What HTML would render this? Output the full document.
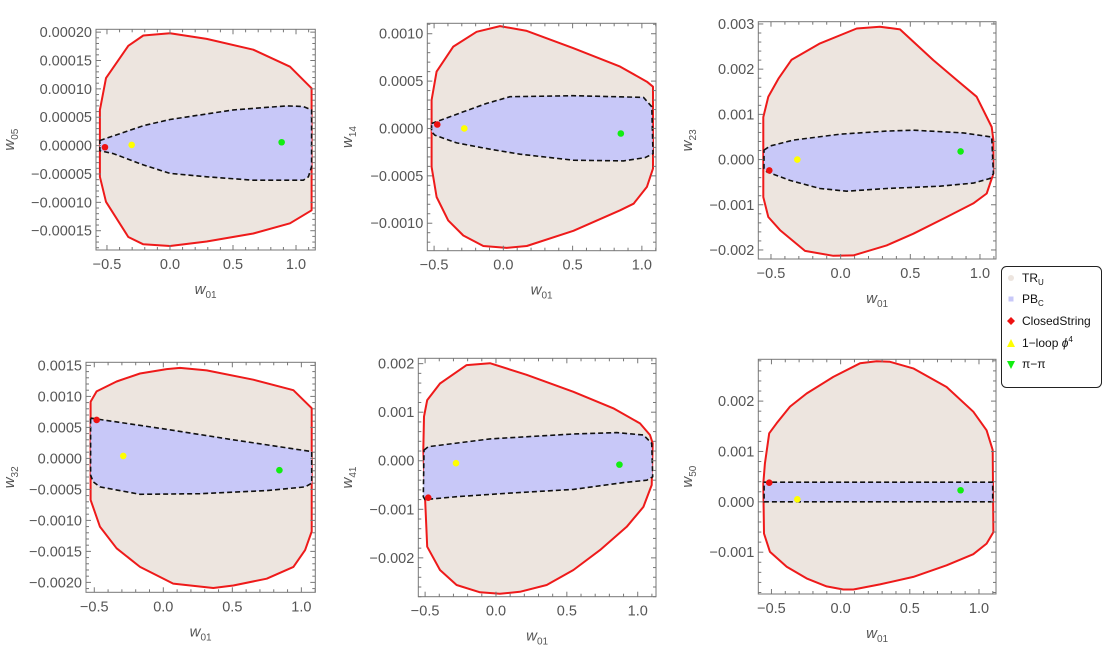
<!DOCTYPE html>
<html><head><meta charset="utf-8">
<style>
body{margin:0;background:#fff;width:1104px;height:658px;overflow:hidden;font-family:"Liberation Sans",sans-serif}
svg{position:absolute;left:0;top:0}
</style></head>
<body>
<svg id="chart" width="1104" height="658" xmlns="http://www.w3.org/2000/svg"></svg>
<script>
// ---- data (data units) ----
const p1OuterX=[-0.556,-0.508,-0.331,-0.212,0.0,0.291,0.661,0.952,1.124,1.124,0.952,0.661,0.291,0.0,-0.212,-0.331,-0.508,-0.556];
const p1OuterY=[0.000063,0.000119,0.000176,0.000194,0.000198,0.000188,0.000169,0.000139,0.000101,-0.000114,-0.000137,-0.000155,-0.000169,-0.000177,-0.000174,-0.000161,-0.000099,-0.000055];
const p1InnerX=[-0.556,-0.212,0.0,0.503,0.926,1.058,1.124,1.124,1.098,1.058,0.661,0.291,0.0,-0.212,-0.450,-0.556];
const p1InnerY=[0.000009,0.000035,0.000046,0.000063,0.000070,0.000069,0.000063,-0.000037,-0.000055,-0.000061,-0.000061,-0.000055,-0.000049,-0.000034,-0.000014,-0.000009];
const p1Pts=[[-0.516,-0.0000029],[-0.304,0.0000012],[0.886,0.0000059]];

const p2OuterX=[-0.518,-0.518,-0.482,-0.361,-0.193,-0.024,0.169,0.506,0.843,1.036,1.080,1.080,1.036,0.940,0.843,0.506,0.169,0.024,-0.145,-0.289,-0.398,-0.482,-0.518];
const p2OuterY=[0.0,0.00030,0.00060,0.000864,0.00102,0.00108,0.00103,0.000847,0.000653,0.000494,0.000441,-0.000423,-0.000617,-0.000794,-0.000864,-0.00108,-0.00124,-0.00126,-0.00124,-0.00113,-0.00097,-0.000723,-0.000406];
const p2InnerX=[-0.518,-0.289,-0.120,0.048,0.506,1.012,1.072,1.080,1.024,0.867,0.506,0.120,-0.120,-0.337,-0.494,-0.518];
const p2InnerY=[0.000053,0.000176,0.000265,0.000335,0.000346,0.000328,0.000229,-0.000265,-0.000307,-0.000342,-0.000335,-0.000272,-0.000212,-0.000152,-0.000071,-0.000035];
const p2Pts=[[-0.477,0.000042],[-0.282,0.0],[0.848,-0.000053]];

const p3OuterX=[-0.555,-0.519,-0.447,-0.352,-0.148,0.115,0.282,0.426,0.665,0.833,0.976,1.084,1.096,1.096,1.048,0.952,0.761,0.522,0.330,0.091,-0.053,-0.256,-0.435,-0.519,-0.555];
const p3OuterY=[0.00094,0.00139,0.00179,0.00221,0.00257,0.00290,0.00294,0.00288,0.00220,0.00176,0.00139,0.00072,0.00043,-0.00031,-0.00075,-0.00097,-0.00127,-0.00164,-0.00190,-0.00212,-0.00213,-0.00202,-0.00156,-0.00127,-0.00083];
const p3InnerX=[-0.550,-0.507,-0.340,-0.005,0.330,0.522,0.880,1.084,1.096,1.072,0.952,0.713,0.330,0.043,-0.148,-0.364,-0.531,-0.550];
const p3InnerY=[0.00021,0.00030,0.00043,0.00056,0.00063,0.00065,0.00059,0.00050,-0.00031,-0.00042,-0.00052,-0.00059,-0.00064,-0.00070,-0.00064,-0.00046,-0.00027,-0.00020];
const p3Pts=[[-0.512,-0.00024],[-0.311,0.0],[0.861,0.00018]];

const p4OuterX=[-0.527,-0.483,-0.338,-0.169,0.024,0.121,0.314,0.652,0.942,1.075,1.075,1.027,0.942,0.749,0.507,0.362,0.072,-0.169,-0.338,-0.459,-0.527];
const p4OuterY=[0.000915,0.00108,0.00124,0.00137,0.00144,0.00146,0.00142,0.00127,0.00110,0.00081,-0.00118,-0.00148,-0.00175,-0.00194,-0.00205,-0.00209,-0.00202,-0.00175,-0.00145,-0.00110,-0.00067];
const p4InnerX=[-0.527,0.024,0.507,1.075,1.075,1.027,0.749,0.266,-0.169,-0.459,-0.507,-0.527];
const p4InnerY=[0.00065,0.00047,0.00030,0.00011,-0.00040,-0.00046,-0.00052,-0.00057,-0.00058,-0.00046,-0.00038,-0.00027];
const p4Pts=[[-0.483,0.00062],[-0.290,0.00004],[0.841,-0.00019]];

const p5OuterX=[-0.513,-0.508,-0.485,-0.395,-0.207,-0.042,0.216,0.546,0.828,1.016,1.087,1.106,1.099,1.040,0.922,0.734,0.546,0.358,0.169,0.028,-0.113,-0.278,-0.395,-0.485,-0.501];
const p5OuterY=[0.00022,0.00091,0.00125,0.00159,0.00197,0.00201,0.00177,0.00142,0.00108,0.00077,0.00053,0.00036,-0.00050,-0.00095,-0.00136,-0.00184,-0.00225,-0.00256,-0.00270,-0.00274,-0.00271,-0.00256,-0.00225,-0.00177,-0.00074];
const p5InnerX=[-0.508,-0.478,-0.042,0.546,0.852,1.040,1.099,1.106,1.064,0.899,0.546,0.075,-0.278,-0.501,-0.513];
const p5InnerY=[0.00022,0.00029,0.00045,0.00055,0.00058,0.00053,0.00036,-0.00033,-0.00040,-0.00045,-0.00059,-0.00067,-0.00074,-0.00080,-0.00074];
const p5Pts=[[-0.478,-0.00076],[-0.282,-0.00005],[0.871,-0.00008]];

const p6OuterX=[-0.559,-0.547,-0.516,-0.463,-0.366,-0.246,-0.053,0.140,0.260,0.357,0.525,0.766,0.959,1.055,1.099,1.104,1.055,0.959,0.766,0.525,0.284,0.092,0.019,-0.101,-0.246,-0.390,-0.511,-0.554];
const p6OuterY=[0.00036,0.00076,0.00136,0.00156,0.00189,0.00215,0.00248,0.00275,0.00279,0.00278,0.00265,0.00228,0.00179,0.00142,0.00103,-0.00060,-0.00083,-0.00104,-0.00126,-0.00149,-0.00164,-0.00174,-0.00174,-0.00168,-0.00152,-0.00129,-0.00099,-0.00063];
const p6InnerX=[-0.553,1.099,1.099,-0.553];
const p6InnerY=[0.00039,0.00039,0.0,0.0];
const p6Pts=[[-0.516,0.00038],[-0.313,0.00005],[0.867,0.00023]];

const xTicks=[-0.5,0.0,0.5,1.0];
const xTickLabels=["−0.5","0.0","0.5","1.0"];
const p1YTicks=[0.0002,0.00015,0.0001,0.00005,0,-0.00005,-0.0001,-0.00015];
const p2YTicks=[0.001,0.0005,0,-0.0005,-0.001];
const p3YTicks=[0.003,0.002,0.001,0,-0.001,-0.002];
const p4YTicks=[0.0015,0.001,0.0005,0,-0.0005,-0.001,-0.0015,-0.002];
const p5YTicks=[0.002,0.001,0,-0.001,-0.002];
const p6YTicks=[0.002,0.001,0,-0.001];
const yLabels=["05","14","23","32","41","50"];

// ---- layout ----
const panels=[
 {f:[96,29.3,315.3,250],xr:[-0.587,1.153],yr:[-0.000184,0.000205],ox:p1OuterX,oy:p1OuterY,ix:p1InnerX,iy:p1InnerY,pts:p1Pts,yt:p1YTicks,dec:5,minor:5},
 {f:[427.3,23.3,656,250.7],xr:[-0.549,1.102],yr:[-0.00129,0.00111],ox:p2OuterX,oy:p2OuterY,ix:p2InnerX,iy:p2InnerY,pts:p2Pts,yt:p2YTicks,dec:4,minor:5},
 {f:[758.3,21.7,996,259],xr:[-0.591,1.115],yr:[-0.0022,0.00305],ox:p3OuterX,oy:p3OuterY,ix:p3InnerX,iy:p3InnerY,pts:p3Pts,yt:p3YTicks,dec:3,minor:5},
 {f:[86,362.3,315.3,592.3],xr:[-0.56,1.101],yr:[-0.00216,0.00155],ox:p4OuterX,oy:p4OuterY,ix:p4InnerX,iy:p4InnerY,pts:p4Pts,yt:p4YTicks,dec:4,minor:5},
 {f:[418.3,358.3,656,596.7],xr:[-0.548,1.129],yr:[-0.0028,0.00211],ox:p5OuterX,oy:p5OuterY,ix:p5InnerX,iy:p5InnerY,pts:p5Pts,yt:p5YTicks,dec:3,minor:5},
 {f:[758.3,359.3,996,594],xr:[-0.595,1.123],yr:[-0.00183,0.00283],ox:p6OuterX,oy:p6OuterY,ix:p6InnerX,iy:p6InnerY,pts:p6Pts,yt:p6YTicks,dec:3,minor:5}
];
const yTitleX=[14,352,692];
const NS="http://www.w3.org/2000/svg";
const svg=document.getElementById('chart');
function mk(tag,attrs,parent){const e=document.createElementNS(NS,tag);for(const k in attrs)e.setAttribute(k,attrs[k]);(parent||svg).appendChild(e);return e;}
function fmt(v,d){const s=Math.abs(v).toFixed(d);return (v<-1e-12?"−":"")+s;}
const ptColors=["#ee1111","#ffff00","#11ee11"];
const ptNames=["closed-string-point","one-loop-phi4-point","pi-pi-point"];
panels.forEach((p,i)=>{
 const [L,T,R,B]=p.f;
 const sx=v=>L+(v-p.xr[0])/(p.xr[1]-p.xr[0])*(R-L);
 const sy=v=>B-(v-p.yr[0])/(p.yr[1]-p.yr[0])*(B-T);
 const g=mk('g',{});
 
 
 const cp=mk('clipPath',{id:'c'+i},g);
 mk('rect',{x:L,y:T,width:R-L,height:B-T},cp);
 const cg=mk('g',{'clip-path':'url(#c'+i+')'},g);
 const op=p.ox.map((x,k)=>sx(x).toFixed(1)+','+sy(p.oy[k]).toFixed(1)).join(' ');
 const outer=mk('polygon',{points:op,fill:'#ede5df',stroke:'#ee1a1a','stroke-width':2,'stroke-linejoin':'round'},cg);
 
 
 const ip=p.ix.map((x,k)=>sx(x).toFixed(1)+','+sy(p.iy[k]).toFixed(1)).join(' ');
 const inner=mk('polygon',{points:ip,fill:'#c8c8f8',stroke:'#111','stroke-width':1.6,'stroke-dasharray':'5,3','stroke-linejoin':'round'},cg);
 
 
 p.pts.forEach((pt,k)=>{
  const c=mk('circle',{cx:sx(pt[0]),cy:sy(pt[1]),r:3.3,fill:ptColors[k]},cg);
  
  
 });
 const fr=mk('rect',{x:L,y:T,width:R-L,height:B-T,fill:'none',stroke:'#777','stroke-width':1},g);
 
 
 for(let v=-0.5;v<=1.1001;v+=0.1){
  const X=sx(v);if(X<L||X>R)continue;
  const major=Math.abs(v*2-Math.round(v*2))<1e-6;const len=major?5:3;
  mk('line',{x1:X,y1:B,x2:X,y2:B-len,stroke:'#777'},g);
  mk('line',{x1:X,y1:T,x2:X,y2:T+len,stroke:'#777'},g);
 }
 for(let v=-0.6;v>=p.xr[0]-1e-9;v-=0.1){const X=sx(v);mk('line',{x1:X,y1:B,x2:X,y2:B-3,stroke:'#777'},g);mk('line',{x1:X,y1:T,x2:X,y2:T+3,stroke:'#777'},g);}
 xTicks.forEach((v,k)=>{
  const t=mk('text',{x:sx(v),y:B+19,'text-anchor':'middle','font-size':14.5,fill:'#555'},g);
  t.textContent=xTickLabels[k];
  
  
 });
 const step=Math.abs(p.yt[0]-p.yt[1]);const ms=step/p.minor;
 const start=Math.ceil(p.yr[0]/ms)*ms;
 for(let v=start;v<=p.yr[1];v+=ms){
  const Y=sy(v);const q=v/step;const major=Math.abs(q-Math.round(q))<1e-4;const len=major?5:3;
  mk('line',{x1:L,y1:Y,x2:L+len,y2:Y,stroke:'#777'},g);
  mk('line',{x1:R,y1:Y,x2:R-len,y2:Y,stroke:'#777'},g);
 }
 p.yt.forEach(v=>{
  const t=mk('text',{x:L-4,y:sy(v)+5,'text-anchor':'end','font-size':14.5,fill:'#555'},g);
  t.textContent=fmt(v,p.dec);
  
  
 });
 const xl=mk('text',{x:(L+R)/2,y:B+44,'text-anchor':'middle','font-size':15,fill:'#555','font-style':'italic'},g);
 xl.innerHTML='w<tspan font-size="10" dy="4" font-style="normal">01</tspan>';
 
 
 const yc=(T+B)/2;const yx=yTitleX[i%3];
 const yl=mk('text',{x:0,y:0,transform:`translate(${yx},${yc}) rotate(-90)`,'text-anchor':'middle','font-size':15,fill:'#555','font-style':'italic'},g);
 yl.innerHTML='w<tspan font-size="10" dy="4" font-style="normal">'+yLabels[i]+'</tspan>';
 
 
});
const lg=mk('g',{});


mk('rect',{x:1001.5,y:266.5,width:100,height:121,rx:5,fill:'#fff',stroke:'#222','stroke-width':1},lg);
const items=[["TR","U"],["PB","C"],["ClosedString",""],["1−loop ϕ",""],["π−π",""]];
const ys=[282,303,325,347,368];
items.forEach((it,k)=>{
 const y=ys[k];
 if(k===0)mk('circle',{cx:1011,cy:y-4,r:3,fill:'#ede5df'},lg);
 if(k===1)mk('rect',{x:1008.5,y:y-6.5,width:5,height:5,fill:'#c8c8f8'},lg);
 if(k===2)mk('polygon',{points:`1011,${y-8} 1015,${y-4} 1011,${y} 1007,${y-4}`,fill:'#ee1111'},lg);
 if(k===3)mk('polygon',{points:`1011,${y-8} 1015,${y} 1007,${y}`,fill:'#ffff00'},lg);
 if(k===4)mk('polygon',{points:`1007,${y-7} 1015,${y-7} 1011,${y+1}`,fill:'#11ee11'},lg);
 const t=mk('text',{x:1022,y:y,'font-size':12,fill:'#111'},lg);
 if(k<2)t.innerHTML=it[0]+'<tspan font-size="8" dy="3">'+it[1]+'</tspan>';
 else if(k===3)t.innerHTML='1−loop <tspan font-style="italic">ϕ</tspan><tspan font-size="8" dy="-5">4</tspan>';
 else t.textContent=it[0];
 
 
});
</script>
</body></html>
